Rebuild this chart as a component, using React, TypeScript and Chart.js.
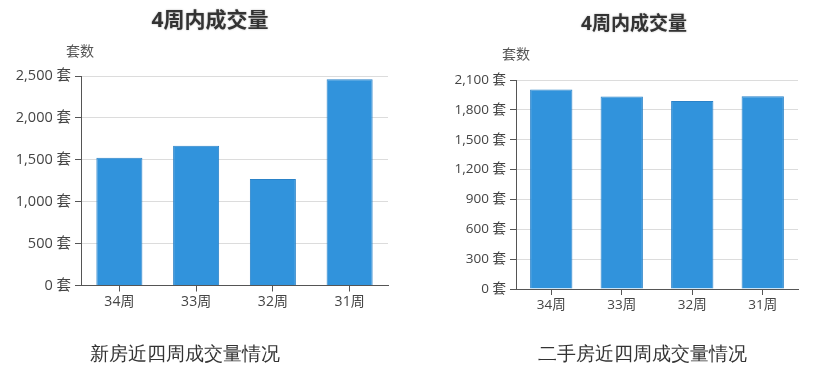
import React, { useEffect, useRef } from "react";
import { Chart, registerables } from "chart.js";

Chart.register(...registerables);

const categories = ["34周", "33周", "32周", "31周"];
const newHouseValues = [1525, 1668, 1271, 2460];
const secondHandValues = [2004, 1933, 1889, 1936];
const newHouseAxis = { max: 2500, step: 500 };
const secondHandAxis = { max: 2100, step: 300 };
const chartTitle = "4周内成交量";
const axisTitle = "套数";
const newHouseCaption = "新房近四周成交量情况";
const secondHandCaption = "二手房近四周成交量情况";

const FONT = "'Open Sans', 'Noto Sans CJK SC', sans-serif";

type Geo = {
  left: number;
  right: number;
  top: number;
  bottom: number;
  titleX: number;
  titleY: number;
  titleSize: number;
  unitX: number;
  unitY: number;
  tickSize: number;
  xTickSize: number;
};

function BarChart({ values, axis, geo }: { values: number[]; axis: { max: number; step: number }; geo: Geo }) {
  const ref = useRef<HTMLCanvasElement | null>(null);
  useEffect(() => {
    if (!ref.current) return;
    const W = 420;
    const H = 371;
    const textPlugin = {
      id: "texts",
      afterDraw(chart: any) {
        const ctx = chart.ctx;
        ctx.save();
        ctx.textAlign = "center";
        ctx.textBaseline = "middle";
        ctx.font = `bold ${geo.titleSize}px ${FONT}`;
        ctx.shadowColor = "rgba(0,0,0,0.3)";
        ctx.shadowBlur = 2;
        ctx.fillStyle = "#333";
        ctx.fillText(chartTitle, geo.titleX, geo.titleY);
        ctx.shadowBlur = 0;
        ctx.shadowColor = "transparent";
        ctx.font = `14px ${FONT}`;
        ctx.fillStyle = "#555";
        ctx.fillText(axisTitle, geo.unitX, geo.unitY);
        ctx.restore();
      },
    };
    const chart = new Chart(ref.current, {
      type: "bar",
      data: {
        labels: categories,
        datasets: [
          {
            data: values,
            backgroundColor: "#3193dc",
            borderColor: "#2a82c8",
            borderWidth: 1,
            categoryPercentage: 1,
            barPercentage: 0.6,
          },
        ],
      },
      options: {
        responsive: false,
        animation: false,
        layout: { padding: { left: 0, right: W - geo.right, top: geo.top, bottom: 0 } },
        plugins: { legend: { display: false }, title: { display: false }, tooltip: { enabled: false } },
        scales: {
          x: {
            grid: { display: true, drawOnChartArea: false, drawTicks: true, tickLength: 6, offset: false, tickColor: "#555" },
            border: { display: true, color: "#555", width: 1 },
            ticks: { color: "#444", font: { size: geo.xTickSize, family: FONT }, padding: 2 },
            afterFit: (s: any) => {
              s.height = H - geo.bottom;
            },
          },
          y: {
            min: 0,
            max: axis.max,
            grid: { color: "#dcdcdc", tickLength: 6, tickColor: "#555", drawTicks: true },
            border: { display: true, color: "#555", width: 1 },
            ticks: {
              stepSize: axis.step,
              color: "#444",
              padding: 4,
              font: { size: geo.tickSize, family: FONT },
              callback: (v: any) => Number(v).toLocaleString("en-US") + " 套",
            },
            afterFit: (s: any) => {
              s.width = geo.left;
            },
          },
        },
      },
      plugins: [textPlugin],
    });
    return () => chart.destroy();
  }, []);
  return <canvas ref={ref} width={420} height={371} style={{ width: 420, height: 371, display: "block" }} />;
}

const leftGeo: Geo = {
  left: 81,
  right: 388,
  top: 76,
  bottom: 285.5,
  titleX: 210,
  titleY: 21,
  titleSize: 21,
  unitX: 80,
  unitY: 52,
  tickSize: 14.5,
  xTickSize: 14,
};

const rightGeo: Geo = {
  left: 96,
  right: 378,
  top: 80,
  bottom: 289,
  titleX: 214,
  titleY: 25,
  titleSize: 19,
  unitX: 96,
  unitY: 55,
  tickSize: 13.5,
  xTickSize: 13.5,
};

export default function App() {
  const captionStyle: React.CSSProperties = {
    position: "absolute",
    top: 342,
    fontSize: 19,
    color: "#333",
    fontFamily: "serif",
    textAlign: "center",
    width: 300,
    lineHeight: "24px",
  };
  return (
    <div style={{ position: "fixed", left: 0, top: 0, width: 840, height: 371, background: "#fff", overflow: "hidden" }}>
      <div style={{ position: "absolute", left: 0, top: 0 }}>
        <BarChart values={newHouseValues} axis={newHouseAxis} geo={leftGeo} />
      </div>
      <div style={{ position: "absolute", left: 420, top: 0 }}>
        <BarChart values={secondHandValues} axis={secondHandAxis} geo={rightGeo} />
      </div>
      <div style={{ ...captionStyle, left: 185 - 150 }}>{newHouseCaption}</div>
      <div style={{ ...captionStyle, left: 642 - 150 }}>{secondHandCaption}</div>
    </div>
  );
}
